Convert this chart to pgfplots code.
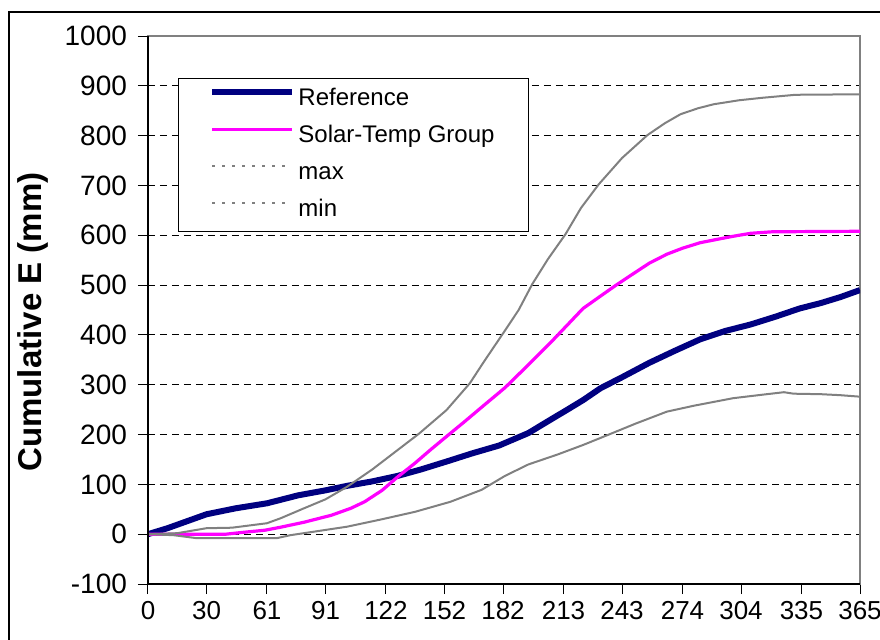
\documentclass[border=0pt]{standalone}
\usepackage{pgfplots}
\pgfplotsset{compat=1.18}
\usepackage{fontspec}
\setmainfont{Liberation Sans}
\definecolor{navyref}{RGB}{0,0,128}
\definecolor{mag}{RGB}{255,0,255}
\definecolor{grayline}{RGB}{128,128,128}
\begin{document}
\begin{tikzpicture}[x=1pt,y=1pt]
\useasboundingbox (-74,-27.5) rectangle (366,292);
\draw[black, line width=0.6pt] (-69.5,-28) -- (-69.5,286) -- (367,286);
\begin{axis}[
  at={(0,0)}, anchor=south west,
  scale only axis, width=356pt, height=274pt,
  xmin=0, xmax=365, ymin=-100, ymax=1000,
  xtick={0,30,61,91,122,152,182,213,243,274,304,335,365},
  ytick={-100,0,100,200,300,400,500,600,700,800,900,1000},
  ymajorgrids,
  grid style={black, line width=0.5pt, dash pattern=on 3.5pt off 2.5pt},
  axis line style={draw=grayline, line width=0.8pt},
  tick align=outside, major tick length=5pt,
  tick style={black, line width=0.5pt},
  tick pos=left,
  /pgf/number format/assume math mode=true,
  /pgf/number format/1000 sep={},
  yticklabel style={font=\fontsize{14}{16}\selectfont, xshift=-2pt},
  xticklabel style={font=\fontsize{13}{15}\selectfont},
  every axis y label/.style={at={(axis description cs:0,0.478)}, rotate=90, anchor=center, yshift=57.5pt, font=\fontsize{16.5}{18}\selectfont\bfseries},
  ylabel={Cumulative E (mm)},
  legend style={at={(axis description cs:0.0421,0.9234)}, anchor=north west,
    draw=black, line width=0.5pt, fill=white,
    font=\fontsize{12}{14}\selectfont,
    inner xsep=15.5pt, inner ysep=4.75pt, row sep=7pt,
    nodes={inner xsep=1.5pt, inner ysep=0pt, text height=9pt, text depth=2.5pt}},
  legend cell align=left,
  legend image code/.code={\draw[#1] (0pt,3.6pt) -- (40pt,3.6pt);},
  after end axis/.code={\draw[black, line width=0.6pt] (rel axis cs:0,1) -- (rel axis cs:0,0) -- (rel axis cs:1,0);},
]
\addplot[navyref, line width=3pt, line join=round] coordinates {
(0,0) (10,12) (20,26) (30,40) (45,52) (61,62) (77,78) (91,88) (102,97) (115,106)
(128,117) (140,130) (154,147) (166,162) (180,178) (195,203) (206,229) (215,250)
(223,269) (232,293) (243,315) (257,344) (270,368) (283,391) (296,408) (309,421)
(322,437) (334,453) (345,464) (355,476) (365,490)};
\addlegendentry{Reference}
\addplot[mag, line width=1.6pt, line join=round] coordinates {
(0,0) (10,0) (40,0) (47,3) (60,8) (68,14) (80,24) (94,38) (104,52) (111,65)
(120,88) (128,115) (137,143) (145,170) (153,196) (162,225) (172,258) (183,294)
(195,340) (206,383) (215,420) (223,453) (232,478) (240,500) (250,526) (257,544)
(266,562) (274,574) (283,585) (292,592) (300,598) (309,604) (320,607) (365,608)};
\addlegendentry{Solar-Temp Group}
\addplot[grayline, line width=1pt, legend image post style={dash pattern=on 1.5pt off 3.5pt}] coordinates {
(0,0) (15,2) (30,12) (43,13) (61,22) (68,32) (80,52) (91,70) (102,95) (115,130)
(125,160) (139,202) (153,249) (165,303) (172,345) (182,403) (190,450) (197,502)
(205,552) (214,602) (222,655) (231,702) (243,755) (256,801) (265,825) (273,843)
(282,855) (290,863) (303,871) (315,876) (332,882) (365,883)};
\addlegendentry{max}
\addplot[grayline, line width=1pt, legend image post style={dash pattern=on 1.5pt off 3.5pt}] coordinates {
(0,0) (13,-2) (25,-8) (45,-8) (66,-8) (73,-2) (85,5) (102,15) (120,30) (137,45)
(155,65) (171,89) (183,117) (195,140) (210,160) (223,179) (235,198) (250,222)
(266,246) (280,258) (300,273) (315,280) (326,285) (331,282) (345,281) (355,279)
(365,276)};
\addlegendentry{min}
\end{axis}
\end{tikzpicture}
\end{document}
